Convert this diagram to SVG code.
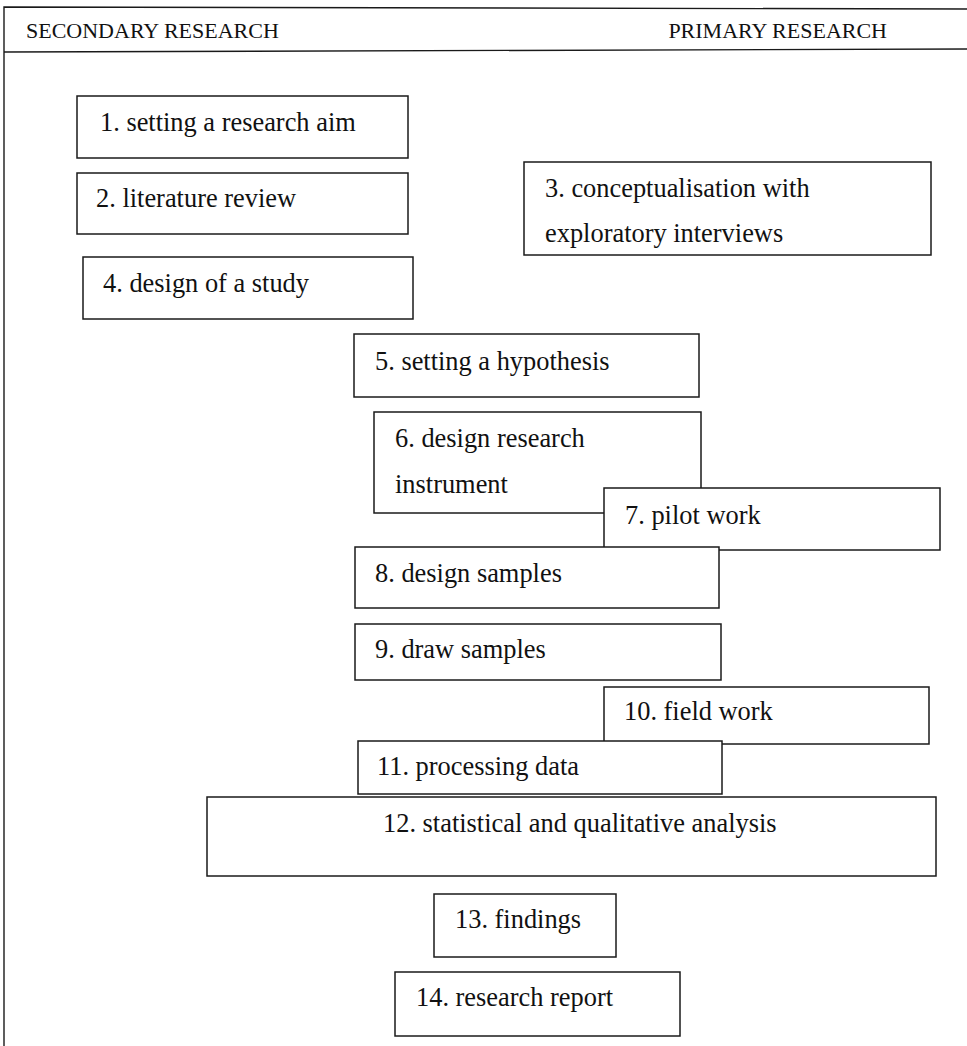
<svg xmlns="http://www.w3.org/2000/svg" width="967" height="1046" viewBox="0 0 967 1046">
  <style>
    .frame { fill: none; stroke: #1a1a1a; stroke-width: 1.4; }
    .box { fill: #ffffff; stroke: #1a1a1a; stroke-width: 1.5; }
    .hdr { font-family: "Liberation Serif", "Times New Roman", serif; font-size: 22px; fill: #111; }
    .lbl { font-family: "Liberation Serif", "Times New Roman", serif; font-size: 26.4px; fill: #111; }
  </style>
  <rect width="967" height="1046" fill="#ffffff"/>

  <!-- table frame with header row -->
  <g id="frame">
    <path class="frame" d="M4,1046 V7 L967,9"/>
    <line class="frame" x1="4" y1="52" x2="967" y2="49"/>
    <text class="hdr" x="26" y="38">SECONDARY RESEARCH</text>
    <text class="hdr" x="887" y="38" text-anchor="end">PRIMARY RESEARCH</text>
  </g>

  <g id="connectors"></g>

  <g id="n1"><rect class="box" x="77" y="96" width="331" height="62"/><text class="lbl" x="100" y="131">1. setting a research aim</text></g>
  <g id="n2"><rect class="box" x="77" y="173" width="331" height="61"/><text class="lbl" x="96" y="207">2. literature review</text></g>
  <g id="n3"><rect class="box" x="524" y="162" width="407" height="93"/><text class="lbl" x="545" y="197">3. conceptualisation with</text><text class="lbl" x="545" y="242">exploratory interviews</text></g>
  <g id="n4"><rect class="box" x="83" y="257" width="330" height="62"/><text class="lbl" x="103" y="292">4. design of a study</text></g>
  <g id="n5"><rect class="box" x="354" y="334" width="345" height="63"/><text class="lbl" x="375" y="370">5. setting a hypothesis</text></g>
  <g id="n6"><rect class="box" x="374" y="412" width="327" height="101"/><text class="lbl" x="395" y="447">6. design research</text><text class="lbl" x="395" y="493">instrument</text></g>
  <g id="n7"><rect class="box" x="604" y="488" width="336" height="62"/><text class="lbl" x="625" y="524">7. pilot work</text></g>
  <g id="n8"><rect class="box" x="355" y="547" width="364" height="61"/><text class="lbl" x="375" y="582">8. design samples</text></g>
  <g id="n9"><rect class="box" x="355" y="624" width="366" height="56"/><text class="lbl" x="375" y="658">9. draw samples</text></g>
  <g id="n10"><rect class="box" x="604" y="687" width="325" height="57"/><text class="lbl" x="624" y="720">10. field work</text></g>
  <g id="n11"><rect class="box" x="358" y="741" width="364" height="53"/><text class="lbl" x="377" y="775">11. processing data</text></g>
  <g id="n12"><rect class="box" x="207" y="797" width="729" height="79"/><text class="lbl" x="383" y="832">12. statistical and qualitative analysis</text></g>
  <g id="n13"><rect class="box" x="434" y="894" width="182" height="63"/><text class="lbl" x="455" y="928">13. findings</text></g>
  <g id="n14"><rect class="box" x="395" y="972" width="285" height="64"/><text class="lbl" x="416" y="1006">14. research report</text></g>
</svg>
